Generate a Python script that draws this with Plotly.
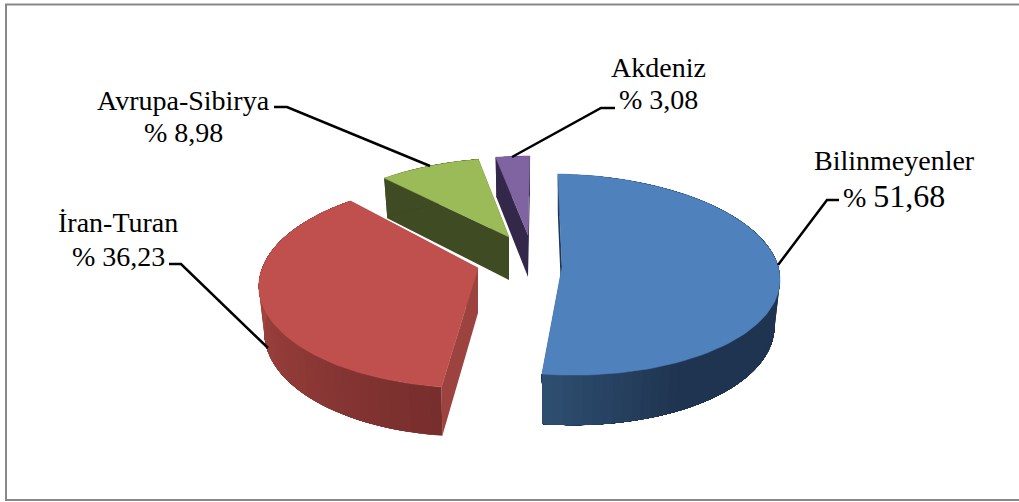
import numpy as np
import plotly.graph_objects as go

# --- data ---
categories = ["Bilinmeyenler", "İran-Turan", "Avrupa-Sibirya", "Akdeniz"]
values = [51.68, 36.23, 8.98, 3.08]

# --- styling of each exploded slice (projection of the unit disc on the canvas) ---
top_colors = ["#4F81BD", "#C0504D", "#9BBB59", "#8064A2"]
cut_colors = ["#1F3552", "#9C423F", "#3F4B22", "#33274A"]
proj = {
    "Bilinmeyenler": dict(cx=562, cy=267, a=217, s=-4.5, b=100, t=3, k=0.075, d0=46, d1=4),
    "İran-Turan": dict(cx=478, cy=268, a=215, s=8, b=101, t=2, k=0.158, d0=45, d1=4),
    "Avrupa-Sibirya": dict(cx=509, cy=237, a=200, s=5, b=87, t=0, k=0.10, d0=43, d1=4),
    "Akdeniz": dict(cx=528, cy=235, a=195, s=2, b=87, t=0, k=0.10, d0=42, d1=2),
}
side_stops = {
    "Bilinmeyenler": ([90, 150, 186], ["#1F3450", "#1F3450", "#2F4F72"]),
    "İran-Turan": ([186, 262, 316], ["#772E2D", "#A2443F", "#A2443F"]),
    "Avrupa-Sibirya": ([316, 349], ["#3F4B22", "#3F4B22"]),
    "Akdeniz": ([349, 360], ["#33274A", "#33274A"]),
}
BOTTOM_SHRINK = 0.975


def hex2rgb(h):
    return np.array([int(h[i:i + 2], 16) for i in (1, 3, 5)], dtype=float)


def side_color(name, theta):
    xs, cols = side_stops[name]
    rgb = [np.interp(theta, xs, [hex2rgb(c)[i] for c in cols]) for i in range(3)]
    return "rgb(%d,%d,%d)" % tuple(rgb)


def project(name, theta, r=1.0, bottom=False):
    p = proj[name]
    th = np.radians(theta)
    X, Y = r * np.sin(th), r * np.cos(th)
    w = 1 + p["k"] * Y
    sx = (p["a"] * X + p["s"] * Y) / w
    sy = (-p["b"] * Y + p["t"] * X) / w
    if bottom:
        sx = sx * BOTTOM_SHRINK
        sy = sy + p["d0"] - p["d1"] * Y
    return p["cx"] + sx, p["cy"] + sy


def poly(x, y, color, lw=0.0):
    return go.Scatter(
        x=list(x) + [x[0]], y=list(y) + [y[0]], mode="lines", fill="toself",
        fillcolor=color, line=dict(color=color, width=lw),
        hoverinfo="skip", showlegend=False,
    )


total = sum(values)
edges = np.concatenate([[0], np.cumsum(values) / total * 360])
spans = {c: (edges[i], edges[i + 1]) for i, c in enumerate(categories)}

fig = go.Figure()
for name in ["Akdeniz", "Avrupa-Sibirya", "Bilinmeyenler", "İran-Turan"]:
    i = categories.index(name)
    t0, t1 = spans[name]
    # cut faces
    for t in (t0, t1):
        ex, ey = project(name, t)
        ax, ay = project(name, t, r=0.0)
        fx, fy = project(name, t, bottom=True)
        gx, gy = project(name, t, r=0.0, bottom=True)
        fig.add_trace(poly([ax, ex, fx, gx], [ay, ey, fy, gy], cut_colors[i]))
    # outer wall: each band runs on to the end of the arc, so later bands paint
    # over it and no background shows through at the joins
    n = max(4, int((t1 - t0) / 2.5))
    th = np.linspace(t0, t1, n + 1)
    for a, b in zip(th[:-1], th[1:]):
        arc = np.linspace(a, t1, 40)
        xt, yt = project(name, arc)
        xb, yb = project(name, arc[::-1], bottom=True)
        fig.add_trace(poly(list(xt) + list(xb), list(yt) + list(yb),
                           side_color(name, (a + b) / 2)))
    # top face
    tt = np.linspace(t0, t1, 120)
    xs, ys = project(name, tt)
    ax, ay = project(name, t0, r=0.0)
    fig.add_trace(poly([ax] + list(xs), [ay] + list(ys), top_colors[i], lw=0.5))

# --- labels and leader lines ---
FONT = "Liberation Serif"
label_pos = {
    "Bilinmeyenler": (894, 160, 196),
    "İran-Turan": (118, 222, 256),
    "Avrupa-Sibirya": (183, 100, 132),
    "Akdeniz": (658, 67, 99),
}
leaders = {
    "Bilinmeyenler": ([839, 827, 778], [200, 200, 265]),
    "İran-Turan": ([169, 181, 268], [264, 264, 348]),
    "Avrupa-Sibirya": ([274, 287, 430], [107, 107, 166]),
    "Akdeniz": ([615, 601, 512], [108, 108, 157]),
}
for name, v in zip(categories, values):
    lx, ly = leaders[name]
    fig.add_trace(go.Scatter(x=lx, y=ly, mode="lines", line=dict(color="black", width=2.5),
                             hoverinfo="skip", showlegend=False))
    px, y1, y2 = label_pos[name]
    num = f"{v:.2f}".replace(".", ",")
    txt2 = f"% {num}"
    if name == "Bilinmeyenler":
        txt2 = f'% <span style="font-size:32px">{num}</span>'
    fig.add_annotation(x=px, y=y1, text=name, showarrow=False,
                       font=dict(family=FONT, size=28, color="black"))
    fig.add_annotation(x=px, y=y2, text=txt2, showarrow=False,
                       font=dict(family=FONT, size=28, color="black"))

fig.add_shape(type="rect", xref="x", yref="y", x0=6, y0=4.5, x1=1040, y1=500,
              line=dict(color="#888888", width=2), fillcolor="rgba(0,0,0,0)")
fig.update_layout(
    width=1019, height=502, margin=dict(l=0, r=0, t=0, b=0),
    paper_bgcolor="white", plot_bgcolor="white", showlegend=False,
    xaxis=dict(range=[0, 1019], visible=False, fixedrange=True),
    yaxis=dict(range=[502, 0], visible=False, fixedrange=True),
)
fig.write_html("out.html", post_script="document.body.style.margin='0';", config={"displayModeBar": False})
